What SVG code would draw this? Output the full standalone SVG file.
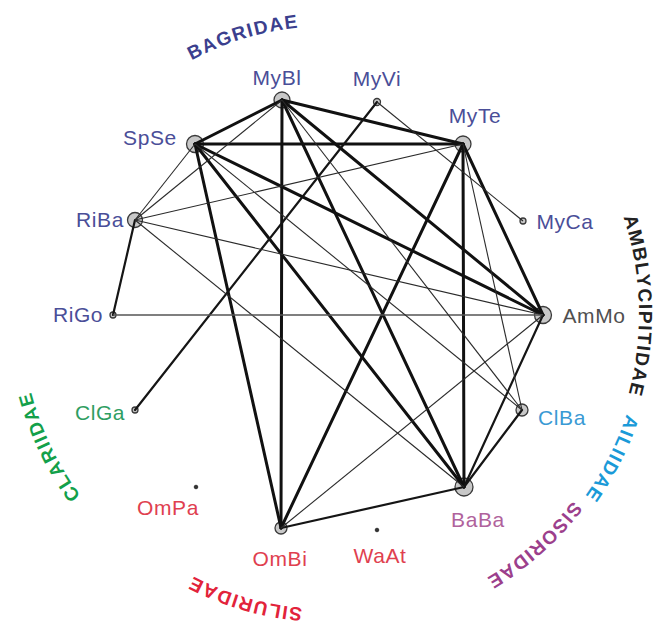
<svg xmlns="http://www.w3.org/2000/svg" xmlns:xlink="http://www.w3.org/1999/xlink" width="658" height="625" viewBox="0 0 658 625">
  <style>
    .lbl { font-family: "Liberation Sans", Arial, sans-serif; font-size: 21px; letter-spacing: 0.6px; text-anchor: middle; }
    .fam { font-family: "Liberation Sans", Arial, sans-serif; font-size: 19px; font-weight: bold; letter-spacing: 1.5px; }
    .bag { fill: #4a4e98; }
    .node { fill: #c8c8c8; stroke: #3a3a3a; stroke-width: 1.3; }
    .dot { fill: #333; stroke: #333; stroke-width: 1; }
    .e3 { stroke: #111; stroke-width: 3; fill: none; stroke-linecap: round; }
    .e2 { stroke: #151515; stroke-width: 2.2; fill: none; stroke-linecap: round; }
    .e1 { stroke: #2a2a2a; stroke-width: 1.1; fill: none; }
    .eg { stroke: #555; stroke-width: 1.4; fill: none; }
  </style>
  <defs>
    <!-- arcs around the ring centre (328,314) for the family names -->
    <path id="arc-bag" d="M47.4,249.2 A288,288 0 0 1 524.4,103.4"/>
    <path id="arc-amb" d="M476.4,40.7 A311,311 0 0 1 490.5,579.2"/>
    <path id="arc-ail" d="M592.2,142.5 A315,315 0 0 1 344.5,628.6"/>
    <path id="arc-sis" d="M629.6,251.5 A308,308 0 0 1 231.3,606.4"/>
    <path id="arc-sil" d="M532.2,526.9 A295,295 0 0 1 41.5,384.4"/>
    <path id="arc-cla" d="M303.4,620.0 A307,307 0 0 1 75.3,139.7"/>
  </defs>
  <rect width="658" height="625" fill="#fff"/>

  <!-- family names -->
  <g id="families">
    <text class="fam" fill="#3b3f8e"><textPath xlink:href="#arc-bag" startOffset="50%" text-anchor="middle">BAGRIDAE</textPath></text>
    <text class="fam" fill="#222"><textPath xlink:href="#arc-amb" startOffset="50%" text-anchor="middle">AMBLYCIPITIDAE</textPath></text>
    <text class="fam" fill="#1a9ad8"><textPath xlink:href="#arc-ail" startOffset="50%" text-anchor="middle">AILIIDAE</textPath></text>
    <text class="fam" fill="#9c3f8c"><textPath xlink:href="#arc-sis" startOffset="50%" text-anchor="middle">SISORIDAE</textPath></text>
    <text class="fam" fill="#e2233a"><textPath xlink:href="#arc-sil" startOffset="50%" text-anchor="middle">SILURIDAE</textPath></text>
    <text class="fam" fill="#13a04a"><textPath xlink:href="#arc-cla" startOffset="50%" text-anchor="middle">CLARIIDAE</textPath></text>
  </g>

  <!-- species nodes -->
  <g id="MyBl"><circle class="node" cx="282" cy="100" r="8"/><text class="lbl bag" x="277" y="85">MyBl</text></g>
  <g id="MyVi"><circle class="node" cx="377" cy="102" r="3.5"/><text class="lbl bag" x="377" y="86">MyVi</text></g>
  <g id="MyTe"><circle class="node" cx="463" cy="144" r="8"/><text class="lbl bag" x="475" y="123">MyTe</text></g>
  <g id="MyCa"><circle class="node" cx="523" cy="221" r="3"/><text class="lbl bag" x="565" y="229">MyCa</text></g>
  <g id="AmMo"><circle class="node" cx="543" cy="315" r="8.5"/><text class="lbl" fill="#505050" x="594" y="323">AmMo</text></g>
  <g id="ClBa"><circle class="node" cx="522" cy="410" r="6"/><text class="lbl" fill="#3a9ad4" x="562" y="425">ClBa</text></g>
  <g id="BaBa"><circle class="node" cx="464" cy="487" r="9"/><text class="lbl" fill="#b0629c" x="478" y="527">BaBa</text></g>
  <g id="WaAt"><circle class="dot" cx="377" cy="530" r="1.8"/><text class="lbl" fill="#e0404f" x="380" y="563">WaAt</text></g>
  <g id="OmBi"><circle class="node" cx="281" cy="528" r="6"/><text class="lbl" fill="#e0404f" x="280" y="566">OmBi</text></g>
  <g id="OmPa"><circle class="dot" cx="196" cy="487" r="1.8"/><text class="lbl" fill="#e0404f" x="168" y="515">OmPa</text></g>
  <g id="ClGa"><circle class="node" cx="135" cy="410" r="3"/><text class="lbl" fill="#2f9e62" x="100" y="420">ClGa</text></g>
  <g id="RiGo"><circle class="node" cx="113" cy="315" r="3"/><text class="lbl bag" x="78" y="322">RiGo</text></g>
  <g id="RiBa"><circle class="node" cx="135" cy="220" r="7.5"/><text class="lbl bag" x="100" y="227">RiBa</text></g>
  <g id="SpSe"><circle class="node" cx="195" cy="144" r="8.5"/><text class="lbl bag" x="150" y="145">SpSe</text></g>

  <!-- connectors -->
  <g id="connectors">
    <!-- strong links -->
    <line class="e3" x1="282" y1="100" x2="195" y2="144"/>
    <line class="e3" x1="282" y1="100" x2="463" y2="144"/>
    <line class="e3" x1="282" y1="100" x2="281" y2="528"/>
    <line class="e3" x1="282" y1="100" x2="464" y2="487"/>
    <line class="e3" x1="282" y1="100" x2="543" y2="315"/>
    <line class="e3" x1="195" y1="144" x2="463" y2="144"/>
    <line class="e3" x1="195" y1="144" x2="281" y2="528"/>
    <line class="e3" x1="195" y1="144" x2="464" y2="487"/>
    <line class="e3" x1="195" y1="144" x2="543" y2="315"/>
    <line class="e3" x1="463" y1="144" x2="464" y2="487"/>
    <line class="e3" x1="463" y1="144" x2="281" y2="528"/>
    <line class="e3" x1="463" y1="144" x2="543" y2="315"/>
    <!-- medium links -->
    <line class="e2" x1="281" y1="528" x2="464" y2="487"/>
    <line class="e2" x1="543" y1="315" x2="464" y2="487"/>
    <line class="e2" x1="522" y1="410" x2="464" y2="487"/>
    <line class="e2" x1="377" y1="102" x2="135" y2="410"/>
    <line class="e2" x1="135" y1="220" x2="113" y2="315"/>
    <!-- weak links -->
    <line class="e1" x1="195" y1="144" x2="135" y2="220"/>
    <line class="e1" x1="282" y1="100" x2="135" y2="220"/>
    <line class="e1" x1="135" y1="220" x2="463" y2="144"/>
    <line class="e1" x1="135" y1="220" x2="543" y2="315"/>
    <line class="e1" x1="135" y1="220" x2="464" y2="487"/>
    <line class="eg" x1="113" y1="315" x2="543" y2="315"/>
    <line class="e1" x1="377" y1="102" x2="523" y2="221"/>
    <line class="e1" x1="195" y1="144" x2="522" y2="410"/>
    <line class="e1" x1="282" y1="100" x2="522" y2="410"/>
    <line class="e1" x1="463" y1="144" x2="522" y2="410"/>
    <line class="e1" x1="543" y1="315" x2="281" y2="528"/>
  </g>
</svg>
